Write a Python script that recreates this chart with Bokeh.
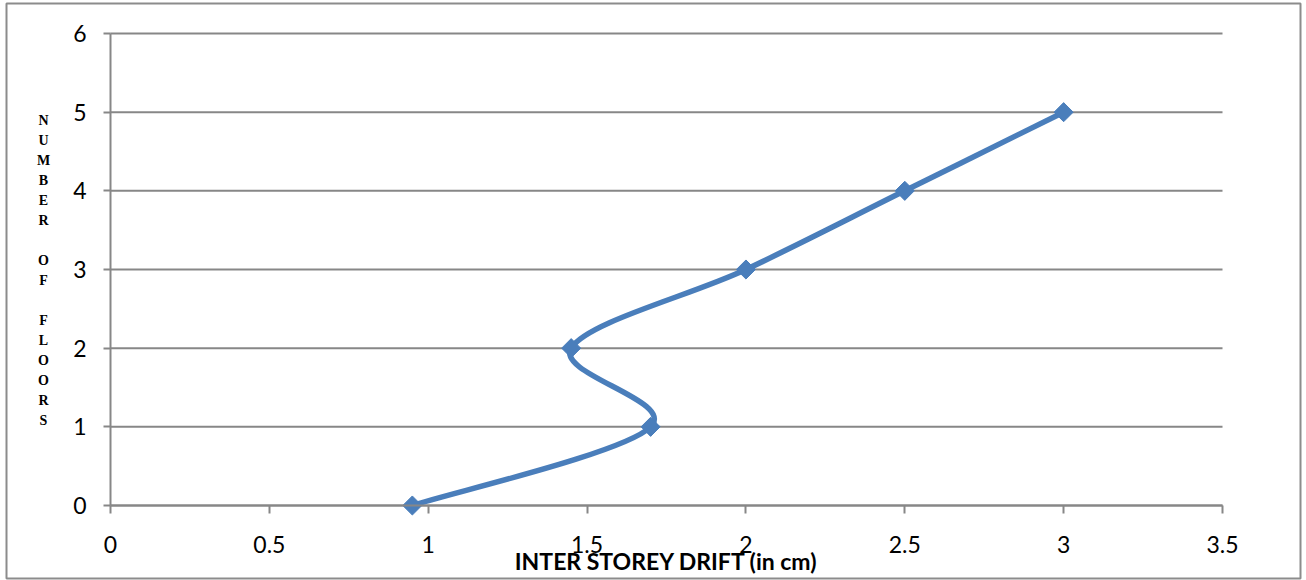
from bokeh.plotting import figure
from bokeh.models import Range1d, FixedTicker, NumeralTickFormatter, Label
from bokeh.embed import file_html
from bokeh.resources import INLINE
import math

# Inter-storey drift per floor
drift = [0.95, 1.7, 1.45, 2.0, 2.5, 3.0]
floors = [0, 1, 2, 3, 4, 5]

x_ticks = [0, 0.5, 1, 1.5, 2, 2.5, 3, 3.5]
y_ticks = [0, 1, 2, 3, 4, 5, 6]

x_title = "INTER STOREY DRIFT (in cm)"
y_title = "NUMBER OF FLOORS"

BLUE = "#4a7ebb"
GREY = "#878787"
TICK_FONT = "Lato"

W, H = 1306, 580
# the frame is the bordered chart box; the axes sit inside it
BOX_L, BOX_R, BOX_T, BOX_B = 6, 1300, 3, 578
AX_L, AX_R, AX_T, AX_B = 110, 1222, 33, 505
XMIN, XMAX, YMIN, YMAX = 0, 3.5, 0, 6

ppx = (AX_R - AX_L) / (XMAX - XMIN)
ppy = (AX_B - AX_T) / (YMAX - YMIN)

x_range = Range1d(XMIN - (AX_L - BOX_L) / ppx, XMAX + (BOX_R - AX_R) / ppx)
y_range = Range1d(YMIN - (BOX_B - AX_B) / ppy, YMAX + (AX_T - BOX_T) / ppy)

p = figure(width=W, height=H, output_backend="svg", toolbar_location=None,
           x_range=x_range, y_range=y_range,
           min_border_left=BOX_L, min_border_right=W - BOX_R,
           min_border_top=BOX_T, min_border_bottom=H - BOX_B)
p.outline_line_color = "#8c8c8c"
p.outline_line_width = 2
p.background_fill_color = "white"
p.border_fill_color = "white"
p.xgrid.grid_line_color = None
p.ygrid.grid_line_color = None

# horizontal gridlines across the plot area
p.segment(x0=XMIN, x1=XMAX, y0=y_ticks, y1=y_ticks,
          line_color=GREY, line_width=2)

# axes
for ax in (p.xaxis[0], p.yaxis[0]):
    ax.axis_line_color = GREY
    ax.axis_line_width = 2
    ax.major_tick_line_color = GREY
    ax.major_tick_line_width = 2
    ax.major_tick_in = 0
    ax.minor_tick_line_color = None
    ax.major_label_text_font = TICK_FONT
    ax.major_label_text_font_size = "23px"
    ax.major_label_text_color = "black"
    ax.formatter = NumeralTickFormatter(format="0.[0]")

p.xaxis[0].ticker = FixedTicker(ticks=x_ticks)
p.yaxis[0].ticker = FixedTicker(ticks=y_ticks)
p.xaxis[0].fixed_location = YMIN
p.yaxis[0].fixed_location = XMIN
p.xaxis[0].bounds = (XMIN, XMAX)
p.yaxis[0].bounds = (YMIN, YMAX)
p.xaxis[0].major_tick_out = 8
p.yaxis[0].major_tick_out = 7
p.xaxis[0].major_label_standoff = 22
p.yaxis[0].major_label_standoff = 17

# smoothed line through the points: cubic Bezier segments (Catmull-Rom style)
n = len(drift)
x0, y0, x1, y1, cx0, cy0, cx1, cy1 = ([] for _ in range(8))
for i in range(n - 1):
    pa = (drift[max(i - 1, 0)], floors[max(i - 1, 0)])
    pb = (drift[i], floors[i])
    pc = (drift[i + 1], floors[i + 1])
    pd = (drift[min(i + 2, n - 1)], floors[min(i + 2, n - 1)])
    x0.append(pb[0]); y0.append(pb[1])
    x1.append(pc[0]); y1.append(pc[1])
    cx0.append(pb[0] + (pc[0] - pa[0]) / 6); cy0.append(pb[1] + (pc[1] - pa[1]) / 6)
    cx1.append(pc[0] - (pd[0] - pb[0]) / 6); cy1.append(pc[1] - (pd[1] - pb[1]) / 6)

p.bezier(x0=x0, y0=y0, x1=x1, y1=y1, cx0=cx0, cy0=cy0, cx1=cx1, cy1=cy1,
         line_color=BLUE, line_width=5.5)
p.scatter(drift, floors, marker="square", angle=math.pi / 4, size=13.5,
          fill_color=BLUE, line_color=BLUE)

# axis titles
p.add_layout(Label(x=(XMIN + XMAX) / 2, y=YMIN - 55 / ppy, text=x_title,
                   text_align="center", text_baseline="middle",
                   text_font="Lato", text_font_style="bold",
                   text_font_size="23px", text_color="black"))

row = 0
for ch in y_title:
    if ch != " ":
        p.add_layout(Label(x=XMIN - 67 / ppx, y=YMAX - (87 + 20 * row) / ppy,
                           text=ch, text_align="center", text_baseline="middle",
                           text_font="Liberation Serif", text_font_style="bold",
                           text_font_size="14px", text_color="black"))
    row += 1

open("out.html", "w").write(file_html(p, INLINE))
